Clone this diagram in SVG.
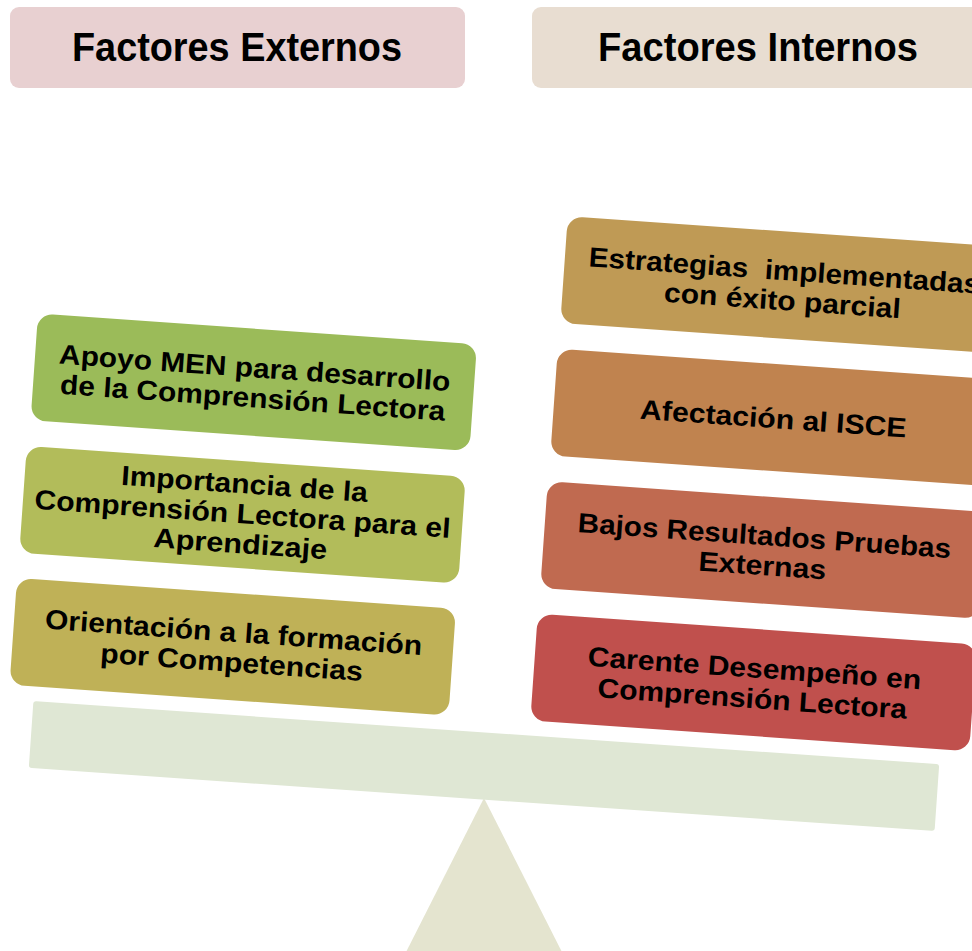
<svg xmlns="http://www.w3.org/2000/svg" width="972" height="951" viewBox="0 0 972 951">
<style>
.hd{font-family:"Liberation Sans",Arial,sans-serif;font-weight:bold;font-size:41px;fill:#000;text-anchor:middle}
.tx{font-family:"Liberation Sans",Arial,sans-serif;font-weight:bold;font-size:27.5px;fill:#000;text-anchor:middle}
</style>
<rect width="972" height="951" fill="#fff"/>
<g id="header-externos">
<rect x="10" y="7" width="455" height="81" rx="9" fill="#E8D0D1"/>
<text class="hd" x="237" y="61" textLength="330" lengthAdjust="spacingAndGlyphs">Factores Externos</text>
</g>
<g id="header-internos">
<rect x="532" y="7" width="460" height="81" rx="9" fill="#E8DDD1"/>
<text class="hd" x="758" y="61" textLength="320" lengthAdjust="spacingAndGlyphs">Factores Internos</text>
</g>
<g id="fulcrum">
<polygon points="484,798 401,962 567,962" fill="#E4E4CF"/>
</g>
<g id="beam" transform="translate(484,766) rotate(3.98)">
<rect x="-454" y="-33.5" width="908" height="67" rx="3" fill="#DFE7D4"/>
</g>
<g id="ext-1" transform="translate(253.75,382.25) rotate(4)">
<rect x="-220" y="-53.5" width="440" height="107" rx="15" fill="#9BBB59"/>
<text class="tx" x="0" y="-5" textLength="392" lengthAdjust="spacingAndGlyphs">Apoyo MEN para desarrollo</text>
<text class="tx" x="0" y="25" textLength="386" lengthAdjust="spacingAndGlyphs">de la Comprensión Lectora</text>
</g>
<g id="ext-2" transform="translate(242.5,514.75) rotate(4)">
<rect x="-220" y="-53.5" width="440" height="107" rx="15" fill="#B2BC5A"/>
<text class="tx" x="0" y="-21.5" textLength="247" lengthAdjust="spacingAndGlyphs">Importancia de la</text>
<text class="tx" x="0" y="8.5" textLength="417" lengthAdjust="spacingAndGlyphs">Comprensión Lectora para el</text>
<text class="tx" x="0" y="38.5" textLength="174" lengthAdjust="spacingAndGlyphs">Aprendizaje</text>
</g>
<g id="ext-3" transform="translate(232.75,646.75) rotate(4)">
<rect x="-220" y="-53.5" width="440" height="107" rx="15" fill="#BFB157"/>
<text class="tx" x="0" y="-5" textLength="378" lengthAdjust="spacingAndGlyphs">Orientación a la formación</text>
<text class="tx" x="0" y="25" textLength="263" lengthAdjust="spacingAndGlyphs">por Competencias</text>
</g>
<g id="int-1" transform="translate(783.5,285) rotate(4)">
<rect x="-220" y="-53.5" width="440" height="107" rx="15" fill="#BF9A55"/>
<text class="tx" x="0" y="-5" textLength="392" lengthAdjust="spacingAndGlyphs" xml:space="preserve">Estrategias  implementadas</text>
<text class="tx" x="0" y="25" textLength="237" lengthAdjust="spacingAndGlyphs">con éxito parcial</text>
</g>
<g id="int-2" transform="translate(773.5,417.5) rotate(4)">
<rect x="-220" y="-53.5" width="440" height="107" rx="15" fill="#C0834F"/>
<text class="tx" x="0" y="10.5" textLength="267" lengthAdjust="spacingAndGlyphs">Afectación al ISCE</text>
</g>
<g id="int-3" transform="translate(763.5,550) rotate(4)">
<rect x="-220" y="-53.5" width="440" height="107" rx="15" fill="#C06A50"/>
<text class="tx" x="0" y="-5" textLength="374" lengthAdjust="spacingAndGlyphs">Bajos Resultados Pruebas</text>
<text class="tx" x="0" y="25" textLength="128" lengthAdjust="spacingAndGlyphs">Externas</text>
</g>
<g id="int-4" transform="translate(753.5,682.5) rotate(4)">
<rect x="-220" y="-53.5" width="440" height="107" rx="15" fill="#C0504D"/>
<text class="tx" x="0" y="-5" textLength="334" lengthAdjust="spacingAndGlyphs">Carente Desempeño en</text>
<text class="tx" x="0" y="25.5" textLength="310" lengthAdjust="spacingAndGlyphs">Comprensión Lectora</text>
</g>
<g id="connectors"></g>
</svg>
